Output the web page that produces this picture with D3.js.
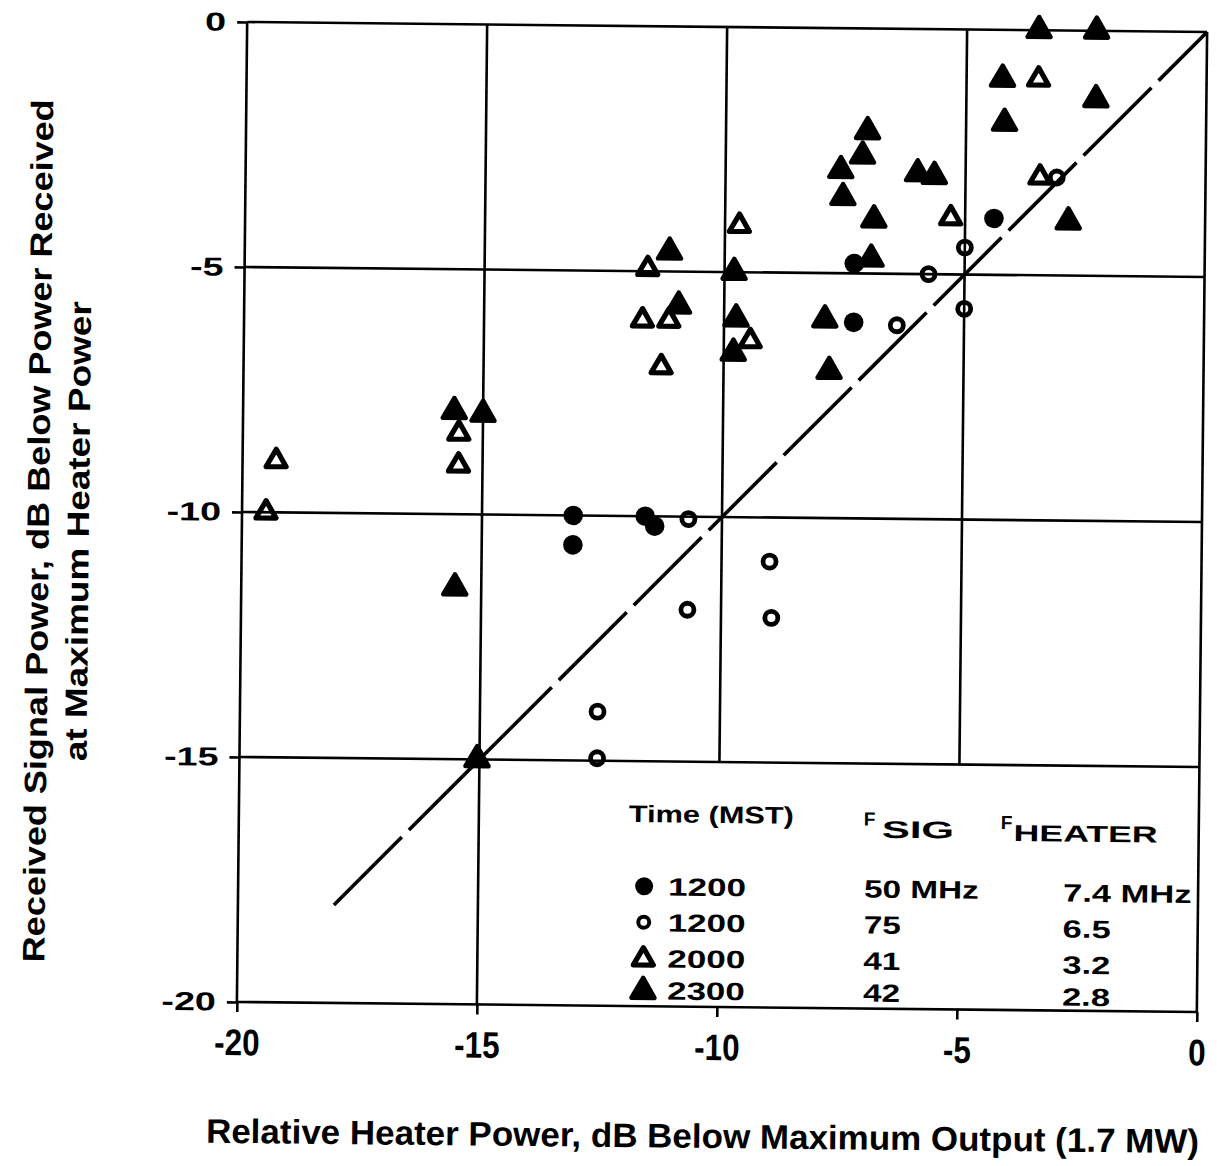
<!DOCTYPE html>
<html>
<head>
<meta charset="utf-8">
<script src="https://cdn.jsdelivr.net/npm/d3@7"></script>
<style>
  html, body { margin: 0; padding: 0; background: #fff; }
  svg { display: block; }
  text { font-family: "Liberation Sans", Arial, Helvetica, sans-serif; font-weight: bold; fill: #000; }
</style>
</head>
<body>
<svg id="chart" width="1217" height="1166"></svg>
<script>
// Received signal power versus relative heater power, four observing runs.
const xTicks = [-20, -15, -10, -5, 0];
const yTicks = [0, -5, -10, -15, -20];

// [heater power dB, received signal dB]
// 1200 MST, F_SIG 50 MHz, F_HEATER 7.4 MHz
const run1200a = [
  [-13.1, -10.0], [-13.1, -10.6], [-11.6, -10.0], [-11.4, -10.2],
  [-7.3, -4.8], [-7.3, -6.0], [-4.4, -3.85]
];
// 1200 MST, F_SIG 75 MHz, F_HEATER 6.5 MHz
const run1200b = [
  [-10.7, -10.05], [-10.7, -11.9], [-9.0, -10.9], [-8.95, -12.05],
  [-12.55, -14.0], [-12.55, -14.95], [-6.4, -6.05], [-5.75, -5.0],
  [-5.0, -4.45], [-5.0, -5.7], [-3.1, -3.0]
];
// 2000 MST, F_SIG 41 MHz, F_HEATER 3.2 MHz
const run2000 = [
  [-19.3, -8.95], [-19.5, -10.0], [-15.5, -8.35], [-15.5, -9.0],
  [-11.6, -4.95], [-11.7, -6.0], [-11.15, -6.0], [-11.3, -6.95],
  [-9.7, -4.05], [-9.45, -6.4], [-5.3, -3.85], [-3.5, -1.0], [-3.45, -3.0]
];
// 2300 MST, F_SIG 42 MHz, F_HEATER 2.8 MHz
const run2300 = [
  [-11.15, -4.6], [-10.95, -5.7], [-9.8, -5.0], [-9.75, -5.95], [-9.8, -6.65],
  [-15.6, -7.9], [-15.0, -7.95], [-15.55, -11.5], [-15.05, -15.0],
  [-7.9, -5.95], [-7.8, -7.0], [-7.05, -2.1], [-7.15, -2.6], [-7.6, -2.9],
  [-7.55, -3.45], [-6.9, -3.9], [-6.0, -2.95], [-5.65, -3.0], [-6.95, -4.7],
  [-3.5, 0.0], [-2.3, 0.0], [-4.25, -1.0], [-2.3, -1.4], [-4.2, -1.9], [-2.85, -3.9]
];
// equal-change reference line
const refLine = [[-18, -18], [0, 0]];

// legend table
const legendTimes = ["1200", "1200", "2000", "2300"];
const legendSig = ["50 MHz", "75", "41", "42"];
const legendHeater = ["7.4 MHz", "6.5", "3.2", "2.8"];
const legendKinds = ["dot", "ring", "openTri", "solidTri"];

// ---------------------------------------------------------------
const svg = d3.select("#chart");
svg.append("rect").attr("width", 1217).attr("height", 1166).attr("fill", "#fff");

// the printed figure sits at a slight clockwise tilt
const g = svg.append("g").attr("transform", "rotate(0.6 722 517)");

const x = d3.scaleLinear().domain([-20, 0]).range([242, 1202]);
const y = d3.scaleLinear().domain([-20, 0]).range([1007, 27]);

function stretch(sel, k) {
  sel.each(function () {
    const w = this.getComputedTextLength();
    d3.select(this).attr("textLength", w * k).attr("lengthAdjust", "spacingAndGlyphs");
  });
}

const triSolid = d3.symbol(d3.symbolTriangle, 0.433 * 23 * 23)();
const triOpen = d3.symbol(d3.symbolTriangle, 0.433 * 20 * 20)();

function drawMarker(sel, kind, small) {
  if (kind === "dot") {
    sel.append("circle").attr("r", small ? 9 : 9.8).attr("fill", "#000");
  } else if (kind === "ring") {
    sel.append("circle").attr("r", small ? 5.5 : 6.5).attr("fill", "#fff")
      .attr("stroke", "#000").attr("stroke-width", small ? 4 : 4.8);
  } else if (kind === "openTri") {
    sel.append("path").attr("d", triOpen).attr("fill", "#fff")
      .attr("stroke", "#000").attr("stroke-width", 5.2).attr("stroke-linejoin", "round");
  } else {
    sel.append("path").attr("d", triSolid).attr("fill", "#000")
      .attr("stroke", "#000").attr("stroke-width", 4.5).attr("stroke-linejoin", "round");
  }
}

// markers (lines go over them so that grid shows through the open symbols)
const marks = g.append("g");
[[run2300, "solidTri"], [run1200a, "dot"], [run2000, "openTri"], [run1200b, "ring"]].forEach(([data, kind]) => {
  marks.append("g").selectAll("g").data(data).join("g")
    .attr("transform", d => `translate(${x(d[0])},${y(d[1])})`)
    .each(function () { drawMarker(d3.select(this), kind, false); });
});

// grid
const grid = g.append("g").attr("stroke", "#000").attr("stroke-width", 2.6);
grid.selectAll("line.h").data(yTicks).join("line").attr("class", "h")
  .attr("x1", x(-20)).attr("x2", x(0))
  .attr("y1", d => y(d)).attr("y2", d => y(d));
// interior verticals stop where the legend panel begins
grid.selectAll("line.v").data(xTicks).join("line").attr("class", "v")
  .attr("x1", d => x(d)).attr("x2", d => x(d))
  .attr("y1", y(0)).attr("y2", d => (d > -15 && d < 0) ? y(-15) : y(-20));

// axes
const xAxis = d3.axisBottom(x).tickValues(xTicks).tickSize(10).tickSizeOuter(0)
  .tickPadding(17).tickFormat(d => String(d));
const yAxis = d3.axisLeft(y).tickValues(yTicks).tickSize(10).tickSizeOuter(0)
  .tickPadding(11).tickFormat(d => String(d));

const gx = g.append("g").attr("transform", `translate(0,${y(-20)})`).call(xAxis);
gx.select(".domain").remove();
gx.selectAll("line").attr("stroke", "#000").attr("stroke-width", 2.6);
gx.selectAll("text").attr("font-size", 37).attr("fill", "#000")
  .style("font-family", "'Liberation Sans', Arial, sans-serif").style("font-weight", "bold");
stretch(gx.selectAll("text"), 0.85);

const gy = g.append("g").attr("transform", `translate(${x(-20)},0)`).call(yAxis);
gy.select(".domain").remove();
gy.selectAll("line").attr("stroke", "#000").attr("stroke-width", 2.6);
gy.selectAll("text").attr("font-size", 26).attr("fill", "#000")
  .style("font-family", "'Liberation Sans', Arial, sans-serif").style("font-weight", "bold");
stretch(gy.selectAll("text"), 1.45);

// reference line
const line = d3.line().x(d => x(d[0])).y(d => y(d[1]));
g.append("path").datum(refLine).attr("d", line)
  .attr("fill", "none").attr("stroke", "#000").attr("stroke-width", 3.6)
  .attr("stroke-dasharray", "96 10");

// axis titles
g.append("text").attr("x", 709).attr("y", 1148).attr("text-anchor", "middle")
  .attr("font-size", 34).attr("textLength", 993).attr("lengthAdjust", "spacingAndGlyphs")
  .text("Relative Heater Power, dB Below Maximum Output (1.7 MW)");

g.append("text").attr("transform", "translate(49,538) rotate(-90)").attr("text-anchor", "middle")
  .attr("font-size", 31).attr("textLength", 863).attr("lengthAdjust", "spacingAndGlyphs")
  .text("Received Signal Power, dB Below Power Received");
g.append("text").attr("transform", "translate(89,538) rotate(-90)").attr("text-anchor", "middle")
  .attr("font-size", 31).attr("textLength", 460).attr("lengthAdjust", "spacingAndGlyphs")
  .text("at Maximum Heater Power");

// legend
const lg = g.append("g");
const colMark = 648, colTime = 672, colSig = 868, colHeat = 1067;
const rowY = [887, 923, 959, 991];

stretch(lg.append("text").attr("x", 632).attr("y", 823).attr("font-size", 24).text("Time (MST)"), 1.28);
lg.append("text").attr("x", 867).attr("y", 824).attr("font-size", 19).text("F");
stretch(lg.append("text").attr("x", 885).attr("y", 836).attr("font-size", 24).text("SIG"), 1.75);
lg.append("text").attr("x", 1004).attr("y", 826).attr("font-size", 19).text("F");
stretch(lg.append("text").attr("x", 1017).attr("y", 838).attr("font-size", 23).text("HEATER"), 1.55);

legendKinds.forEach((kind, i) => {
  const row = lg.append("g");
  drawMarker(row.append("g").attr("transform", `translate(${colMark},${rowY[i] + (kind.endsWith("Tri") ? 1 : 0)})`), kind, true);
  stretch(row.append("text").attr("x", colTime).attr("y", rowY[i] + 9).attr("font-size", 25).text(legendTimes[i]), 1.4);
  stretch(row.append("text").attr("x", colSig).attr("y", rowY[i] + 9).attr("font-size", 25).text(legendSig[i]), 1.33);
  stretch(row.append("text").attr("x", colHeat).attr("y", rowY[i] + 11).attr("font-size", 25).text(legendHeater[i]), 1.38);
});
</script>
</body>
</html>
